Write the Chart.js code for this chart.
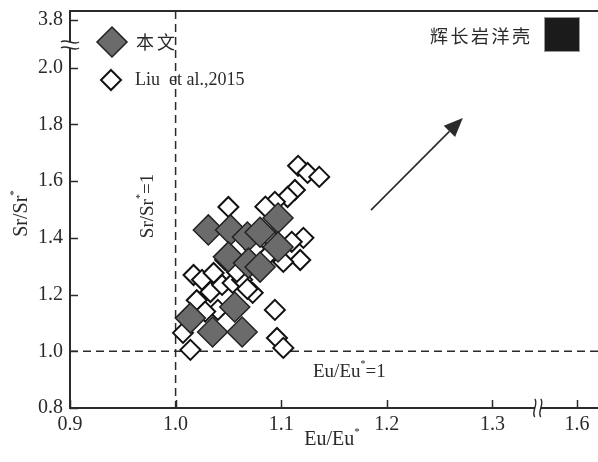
<!DOCTYPE html>
<html>
<head>
<meta charset="utf-8">
<script src="https://cdn.jsdelivr.net/npm/chart.js@4/dist/chart.umd.min.js"></script>
<style>
  html, body { margin: 0; padding: 0; background: #fff; }
  #wrap { width: 598px; height: 462px; position: relative; }
</style>
</head>
<body>
<div id="wrap"><canvas id="chart"></canvas></div>
<script>
// tick positions (display values) and their printed labels; axes are broken
const xTickValues = [0.9, 1.0, 1.1, 1.2, 1.3, 1.38];
const xTickLabels = ['0.9', '1.0', '1.1', '1.2', '1.3', '1.6'];
const yTickValues = [0.8, 1.0, 1.2, 1.4, 1.6, 1.8, 2.0, 2.17];
const yTickLabels = ['0.8', '1.0', '1.2', '1.4', '1.6', '1.8', '2.0', '3.8'];

// 本文 (filled diamonds)
const benwenEu = [1.014, 1.035, 1.063, 1.056, 1.031, 1.052, 1.068, 1.080, 1.050, 1.069, 1.080, 1.097, 1.097];
const benwenSr = [1.117, 1.068, 1.068, 1.156, 1.428, 1.428, 1.403, 1.420, 1.333, 1.311, 1.297, 1.470, 1.368];

// Liu et al., 2015 (open diamonds)
const liuEu = [1.116, 1.125, 1.136, 1.113, 1.106, 1.094, 1.050, 1.085, 1.121, 1.110, 1.118, 1.102,
               1.094, 1.096, 1.102, 1.014, 1.007, 1.017, 1.025, 1.036, 1.033, 1.044, 1.054, 1.063,
               1.073, 1.068, 1.040, 1.047, 1.058, 1.090, 1.020, 1.028, 1.075, 1.085];
const liuSr = [1.654, 1.629, 1.615, 1.569, 1.544, 1.527, 1.509, 1.510, 1.400, 1.386, 1.322, 1.315,
               1.146, 1.047, 1.012, 1.005, 1.065, 1.269, 1.252, 1.276, 1.209, 1.234, 1.241, 1.252,
               1.206, 1.220, 1.146, 1.322, 1.280, 1.400, 1.180, 1.140, 1.360, 1.330];

// arrow toward 辉长岩洋壳
const arrowFrom = [1.185, 1.498];
const arrowTo = [1.272, 1.823];

const SERIF = '"Liberation Serif", "DejaVu Serif", serif';
const CJK = '"Noto Sans CJK SC", sans-serif';
const INK = '#2a2a2a';

function toPoints(xs, ys) {
  return xs.map((x, i) => ({ x: x, y: ys[i] }));
}

// text with a small raised asterisk, e.g. Eu/Eu* ; parts: [[text, isSup], ...]
function drawRich(ctx, parts, x, y, size, align) {
  const supSize = Math.round(size * 0.55);
  let total = 0;
  parts.forEach(p => {
    ctx.font = (p[1] ? supSize : size) + 'px ' + SERIF;
    total += ctx.measureText(p[0]).width;
  });
  let cx = align === 'center' ? x - total / 2 : x;
  ctx.textAlign = 'left';
  ctx.textBaseline = 'middle';
  parts.forEach(p => {
    ctx.font = (p[1] ? supSize : size) + 'px ' + SERIF;
    ctx.fillText(p[0], cx, p[1] ? y - size * 0.38 : y);
    cx += ctx.measureText(p[0]).width;
  });
}

// CJK text with extra spacing between characters
function drawSpaced(ctx, text, x, y, step) {
  ctx.textAlign = 'left';
  ctx.textBaseline = 'middle';
  [...text].forEach((ch, i) => ctx.fillText(ch, x + i * step, y));
}

function diamond(ctx, x, y, r, fill, stroke, lw) {
  ctx.beginPath();
  ctx.moveTo(x, y - r);
  ctx.lineTo(x + r, y);
  ctx.lineTo(x, y + r);
  ctx.lineTo(x - r, y);
  ctx.closePath();
  ctx.fillStyle = fill;
  ctx.fill();
  ctx.lineWidth = lw;
  ctx.strokeStyle = stroke;
  ctx.stroke();
}

function breakMark(ctx, cx, cy, vertical) {
  // two small wavy strokes crossing an axis, with a white gap between
  ctx.save();
  ctx.translate(cx, cy);
  if (!vertical) ctx.rotate(Math.PI / 2);
  ctx.fillStyle = '#fff';
  ctx.beginPath();
  ctx.moveTo(-9, -3); ctx.bezierCurveTo(-4, -7, 4, 1, 9, -3);
  ctx.lineTo(9, 3); ctx.bezierCurveTo(4, 7, -4, -1, -9, 3);
  ctx.closePath();
  ctx.fill();
  ctx.strokeStyle = INK;
  ctx.lineWidth = 1.4;
  [-3, 3].forEach(off => {
    ctx.beginPath();
    ctx.moveTo(-9, off);
    ctx.bezierCurveTo(-4, off - 4, 4, off + 4, 9, off);
    ctx.stroke();
  });
  ctx.restore();
}

const decorPlugin = {
  id: 'decor',
  beforeDatasetsDraw(chart) {
    const { ctx, chartArea: a, scales: { x, y } } = chart;
    ctx.save();
    // reference lines Eu/Eu*=1 and Sr/Sr*=1
    ctx.strokeStyle = INK;
    ctx.lineWidth = 1.5;
    ctx.setLineDash([8, 5]);
    const x1 = x.getPixelForValue(1.0);
    const y1 = y.getPixelForValue(1.0);
    ctx.beginPath();
    ctx.moveTo(x1, a.top); ctx.lineTo(x1, a.bottom);
    ctx.moveTo(a.left, y1); ctx.lineTo(a.right, y1);
    ctx.stroke();
    ctx.setLineDash([]);
    ctx.restore();
  },
  afterDraw(chart) {
    const { ctx, chartArea: a, scales: { x, y } } = chart;
    ctx.save();
    ctx.fillStyle = INK;
    ctx.strokeStyle = INK;

    // top frame line
    ctx.lineWidth = 2;
    ctx.beginPath();
    ctx.moveTo(a.left, a.top); ctx.lineTo(a.right, a.top);
    ctx.stroke();

    // inward tick marks
    ctx.lineWidth = 1.5;
    xTickValues.forEach(v => {
      const px = Math.round(x.getPixelForValue(v)) + 0.5;
      ctx.beginPath(); ctx.moveTo(px, a.bottom); ctx.lineTo(px, a.bottom - 8); ctx.stroke();
    });
    yTickValues.forEach(v => {
      const py = Math.round(y.getPixelForValue(v)) + 0.5;
      ctx.beginPath(); ctx.moveTo(a.left, py); ctx.lineTo(a.left + 8, py); ctx.stroke();
    });

    // axis breaks
    breakMark(ctx, a.left, y.getPixelForValue(2.08), true);
    breakMark(ctx, x.getPixelForValue(1.343), a.bottom, false);

    // axis titles
    ctx.fillStyle = INK;
    drawRich(ctx, [['Eu/Eu', false], ['*', true]], (a.left + a.right) / 2 - 2, 440, 20, 'center');
    ctx.save();
    ctx.translate(22, (a.top + a.bottom) / 2 + 4);
    ctx.rotate(-Math.PI / 2);
    drawRich(ctx, [['Sr/Sr', false], ['*', true]], 0, 0, 20, 'center');
    ctx.restore();

    // reference line labels
    drawRich(ctx, [['Eu/Eu', false], ['*', true], ['=1', false]], 313, 372, 19, 'left');
    ctx.save();
    ctx.translate(148, 206);
    ctx.rotate(-Math.PI / 2);
    drawRich(ctx, [['Sr/Sr', false], ['*', true], ['=1', false]], 0, 0, 19, 'center');
    ctx.restore();

    // arrow
    const ax0 = x.getPixelForValue(arrowFrom[0]), ay0 = y.getPixelForValue(arrowFrom[1]);
    const ax1 = x.getPixelForValue(arrowTo[0]), ay1 = y.getPixelForValue(arrowTo[1]);
    const ang = Math.atan2(ay1 - ay0, ax1 - ax0);
    const hl = 19, hw = 8;
    const bx = ax1 - hl * Math.cos(ang), by = ay1 - hl * Math.sin(ang);
    ctx.lineWidth = 1.6;
    ctx.beginPath(); ctx.moveTo(ax0, ay0); ctx.lineTo(bx, by); ctx.stroke();
    ctx.beginPath();
    ctx.moveTo(ax1, ay1);
    ctx.lineTo(bx + hw * Math.sin(ang), by - hw * Math.cos(ang));
    ctx.lineTo(bx - hw * Math.sin(ang), by + hw * Math.cos(ang));
    ctx.closePath();
    ctx.fill();

    // legend (top left)
    diamond(ctx, 112, 42, 15, '#6b6b6b', '#222', 1.5);
    diamond(ctx, 111, 80, 10, '#fff', '#111', 2);
    ctx.fillStyle = INK;
    ctx.font = '18px ' + CJK;
    drawSpaced(ctx, '本文', 136, 42, 21);
    ctx.font = '18px ' + SERIF;
    ctx.fillText('Liu  et al.,2015', 135, 80);

    // 辉长岩洋壳 swatch (top right)
    ctx.font = '18px ' + CJK;
    drawSpaced(ctx, '辉长岩洋壳', 430, 36, 20.5);
    ctx.fillStyle = '#1b1b1b';
    ctx.fillRect(544, 17, 36, 35);
    ctx.strokeStyle = '#999';
    ctx.lineWidth = 1;
    ctx.strokeRect(544.5, 17.5, 35, 34);

    ctx.restore();
  }
};

const tickFont = { family: SERIF, size: 20 };

function noPad(scale) {
  scale.paddingLeft = 0;
  scale.paddingRight = 0;
  scale.paddingTop = 0;
  scale.paddingBottom = 0;
}

new Chart(document.getElementById('chart'), {
  type: 'scatter',
  data: {
    datasets: [
      {
        label: '本文',
        data: toPoints(benwenEu, benwenSr),
        pointStyle: 'rectRot',
        pointRadius: 15,
        pointHoverRadius: 15,
        backgroundColor: '#6b6b6b',
        borderColor: '#222',
        borderWidth: 1.5,
        order: 0
      },
      {
        label: 'Liu et al.,2015',
        data: toPoints(liuEu, liuSr),
        pointStyle: 'rectRot',
        pointRadius: 10,
        pointHoverRadius: 10,
        backgroundColor: '#fff',
        borderColor: '#111',
        borderWidth: 2,
        order: 1
      }
    ]
  },
  options: {
    responsive: true,
    maintainAspectRatio: false,
    animation: false,
    layout: { autoPadding: false, padding: { top: 11, right: 0, left: 0, bottom: 0 } },
    plugins: {
      legend: { display: false },
      tooltip: { enabled: false }
    },
    scales: {
      x: {
        type: 'linear',
        min: 0.9,
        max: 1.4,
        afterBuildTicks: scale => { scale.ticks = xTickValues.map(v => ({ value: v })); },
        afterFit: scale => { scale.height = 54; noPad(scale); },
        grid: { display: false, drawTicks: false },
        border: { display: true, color: INK, width: 2 },
        ticks: {
          color: INK,
          font: tickFont,
          padding: 5,
          maxRotation: 0,
          callback: (v, i) => xTickLabels[i]
        }
      },
      y: {
        type: 'linear',
        min: 0.8,
        max: 2.2,
        afterBuildTicks: scale => { scale.ticks = yTickValues.map(v => ({ value: v })); },
        afterFit: scale => { scale.width = 70; noPad(scale); },
        grid: { display: false, drawTicks: false },
        border: { display: true, color: INK, width: 2 },
        ticks: {
          color: INK,
          font: tickFont,
          padding: 7,
          callback: (v, i) => yTickLabels[i]
        }
      }
    }
  },
  plugins: [decorPlugin]
});
</script>
</body>
</html>
